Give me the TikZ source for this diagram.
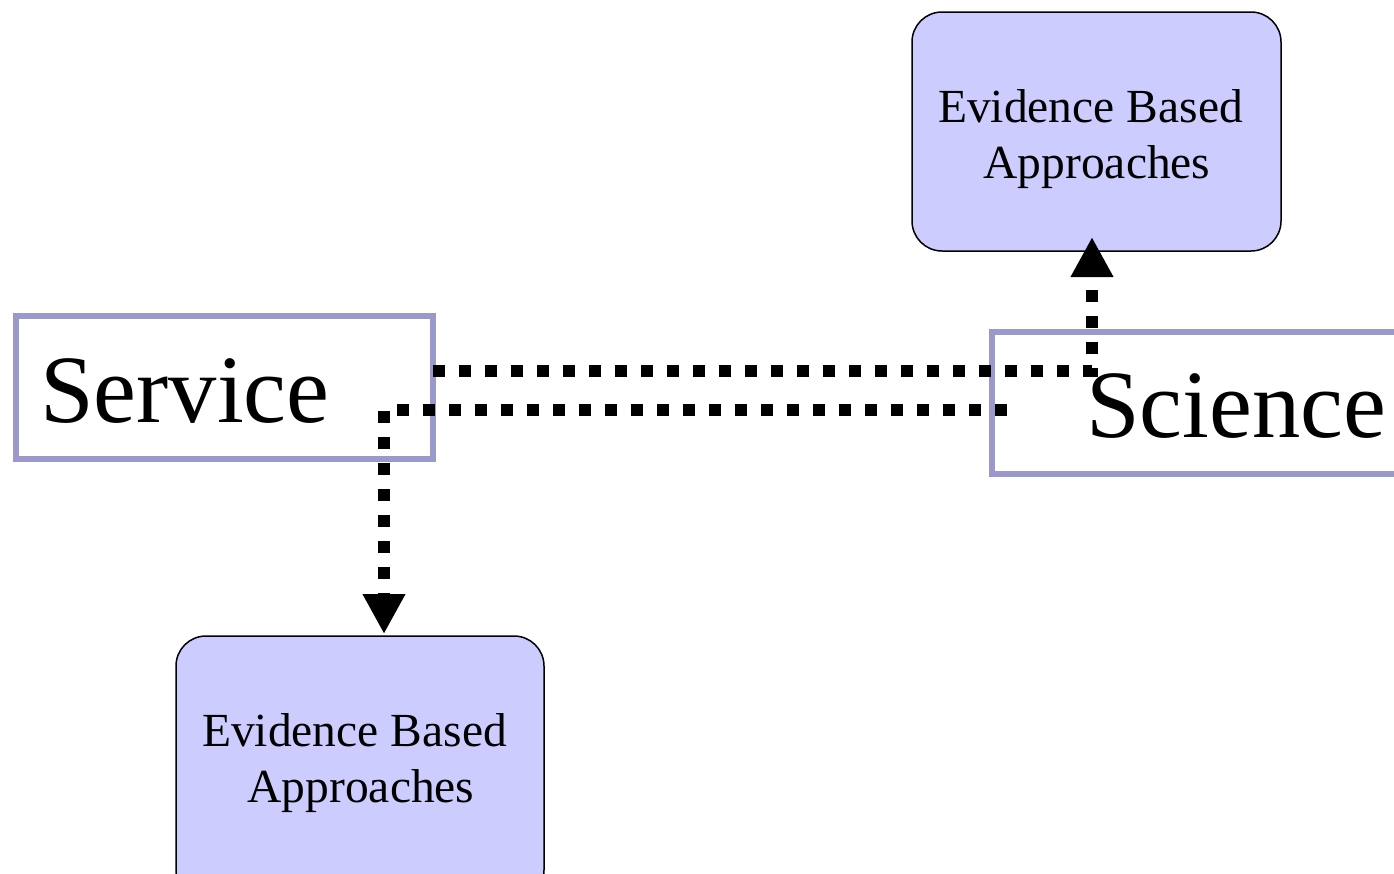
\documentclass[tikz,border=0pt]{standalone}
\usepackage{fontspec}
\setmainfont{Liberation Serif}
\usetikzlibrary{arrows.meta}
\definecolor{lav}{HTML}{9999CC}
\definecolor{lavfill}{HTML}{CCCCFF}
\begin{document}
\begin{tikzpicture}[x=1pt,y=-1pt,
  bigbox/.style={draw=lav,line width=6pt,fill=white,inner sep=0pt},
  evbox/.style={draw=black,line width=1.5pt,fill=lavfill,rounded corners=30pt,inner sep=0pt},
  bigtxt/.style={anchor=base west,inner sep=0pt,font=\fontsize{96.5}{100}\selectfont},
  evtxt/.style={anchor=base,inner sep=0pt,align=center,font=\fontsize{47.5}{56}\selectfont},
  conn/.style={line width=12pt,dash pattern=on 12pt off 14pt,-{Triangle[length=40pt,width=40pt]}}]
\useasboundingbox (0,0) rectangle (1394,873);
\clip (0,0) rectangle (1394,873);
% boxes
\node[bigbox,minimum width=417pt,minimum height=143pt] (service) at (224.5,387.5) {};
\node[bigbox,minimum width=428pt,minimum height=142pt] (science) at (1206,403) {};
\node[evbox,minimum width=369pt,minimum height=239pt] (ebatop) at (1096.5,131.5) {};
\node[evbox,minimum width=368pt,minimum height=264pt] (ebabot) at (360,768) {};
% texts
\node[bigtxt] (servicetxt) at (40,422) {Service};
\node[bigtxt] (sciencetxt) at (1086,437) {Science};
\node[evtxt] (ebatoptxt) at (1097,178) {Evidence Based\hspace*{13pt}\\Approaches};
\node[evtxt] (ebabottxt) at (361,802) {Evidence Based\hspace*{13pt}\\Approaches};
% connectors
\coordinate (a0) at (433,371);
\coordinate (a1) at (1092,237);
\coordinate (b0) at (1007,410);
\coordinate (b1) at (384,634);
\draw[conn] (a0) -| (a1);
\draw[conn] (b0) -| (b1);
\end{tikzpicture}
\end{document}
